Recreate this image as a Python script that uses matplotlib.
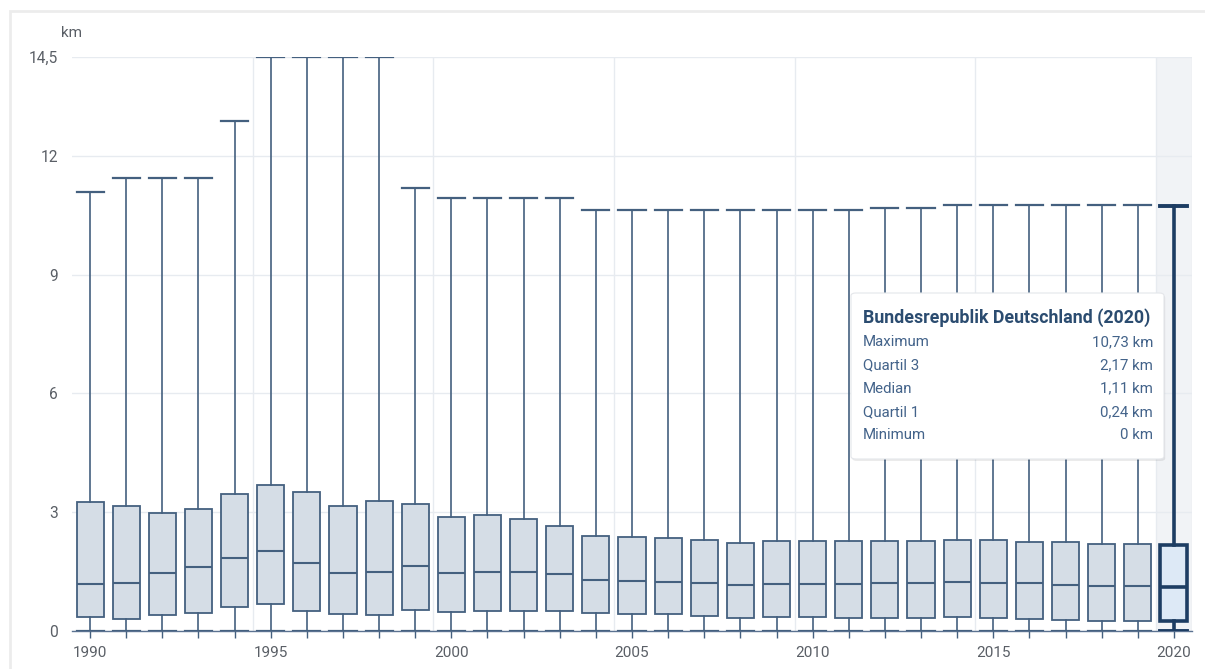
import numpy as np
import matplotlib as mpl
import matplotlib.pyplot as plt
from matplotlib.patches import FancyBboxPatch, Rectangle

mpl.rcParams.update({
    "font.family": ["Roboto", "DejaVu Sans"],
    "font.size": 10,
})

# distance in km per year: whisker ends and quartiles
years = list(range(1990, 2021))
maximum = [11.09, 11.44, 11.44, 11.44, 12.88, 14.5, 14.5, 14.5, 14.5, 11.19,
           10.94, 10.94, 10.94, 10.94, 10.63, 10.63, 10.63, 10.63, 10.63, 10.63,
           10.63, 10.63, 10.68, 10.68, 10.76, 10.76, 10.76, 10.76, 10.76, 10.76,
           10.73]
q3 = [3.25, 3.15, 2.99, 3.09, 3.47, 3.70, 3.51, 3.15, 3.29, 3.22,
      2.88, 2.92, 2.82, 2.66, 2.39, 2.37, 2.36, 2.29, 2.23, 2.27,
      2.27, 2.27, 2.27, 2.27, 2.31, 2.29, 2.26, 2.25, 2.20, 2.19,
      2.17]
median = [1.18, 1.20, 1.46, 1.62, 1.84, 2.02, 1.73, 1.47, 1.48, 1.63,
          1.46, 1.49, 1.49, 1.43, 1.29, 1.27, 1.25, 1.20, 1.17, 1.18,
          1.18, 1.18, 1.20, 1.20, 1.23, 1.22, 1.20, 1.17, 1.14, 1.13,
          1.11]
q1 = [0.35, 0.30, 0.41, 0.46, 0.61, 0.69, 0.51, 0.42, 0.40, 0.52,
      0.49, 0.50, 0.50, 0.50, 0.45, 0.43, 0.42, 0.38, 0.33, 0.35,
      0.35, 0.34, 0.34, 0.34, 0.35, 0.32, 0.30, 0.27, 0.24, 0.24,
      0.24]
minimum = [0.0] * len(years)

y_ticks = [0, 3, 6, 9, 12, 14.5]
x_labels = [1990, 1995, 2000, 2005, 2010, 2015, 2020]
region = "Bundesrepublik Deutschland"

EDGE = "#44607f"
FILL = "#d5dde6"
HL_EDGE = "#1d3d63"
HL_FILL = "#dde9f6"
GRID = "#e7ebf0"
LABEL = "#5a5f66"


def de(v):
    s = f"{v:.2f}".rstrip("0").rstrip(".")
    return s.replace(".", ",")


fig = plt.figure(figsize=(12.05, 6.69), dpi=100)
fig.patch.set_facecolor("white")
# outer card border
fig.add_artist(Rectangle((10 / 1205, -0.05), 1.2, 1 - 11 / 669 + 0.05,
                         transform=fig.transFigure, facecolor="none",
                         edgecolor="#ececec", lw=2))

ax = fig.add_axes([72 / 1205, 1 - 631 / 669, 1120 / 1205, 574 / 669])
ax.set_facecolor("none")
n = len(years)
pos = np.arange(n)

# highlighted category band
ax.axvspan(n - 1.5, n - 0.5, color="#f1f3f6", zorder=0, lw=0)
ax.axvline(n - 0.5, color=GRID, lw=1, zorder=0.5)

for y in y_ticks:
    ax.axhline(y, color=GRID, lw=1, zorder=0.5)
for i, yr in enumerate(years):
    if yr in x_labels and i > 0:
        ax.axvline(i - 0.5, color=GRID, lw=1, zorder=0.5)

stats = []
for i in range(n):
    stats.append(dict(whislo=minimum[i], q1=q1[i], med=median[i],
                      q3=q3[i], whishi=maximum[i], fliers=[]))

ax.bxp(stats[:-1], positions=pos[:-1], widths=0.75, capwidths=0.75,
       patch_artist=True, showfliers=False,
       boxprops=dict(facecolor=FILL, edgecolor=EDGE, lw=1.3),
       medianprops=dict(color=EDGE, lw=1.5),
       whiskerprops=dict(color=EDGE, lw=1.2),
       capprops=dict(color=EDGE, lw=1.6),
       manage_ticks=False)
ax.bxp(stats[-1:], positions=pos[-1:], widths=0.75, capwidths=0.75,
       patch_artist=True, showfliers=False,
       boxprops=dict(facecolor=HL_FILL, edgecolor=HL_EDGE, lw=2.6),
       medianprops=dict(color=HL_EDGE, lw=2.6),
       whiskerprops=dict(color=HL_EDGE, lw=2.6),
       capprops=dict(color=HL_EDGE, lw=2.8),
       manage_ticks=False)

ax.set_xlim(-0.5, n - 0.5)
ax.set_ylim(0, 14.5)
for s in ["left", "right", "top"]:
    ax.spines[s].set_visible(False)
ax.spines["bottom"].set_color("#5b7291")
ax.spines["bottom"].set_linewidth(1.0)
ax.spines["bottom"].set_zorder(1)

ax.set_xticks(pos)
ax.set_xticklabels([str(y) if y in x_labels else "" for y in years])
ax.tick_params(axis="x", length=5, width=1, color=EDGE,
               labelcolor=LABEL, labelsize=11, pad=6)
ax.set_yticks(y_ticks)
ax.set_yticklabels([de(v) for v in y_ticks])
ax.tick_params(axis="y", length=0, labelcolor=LABEL, labelsize=11.2, pad=10)

fig.text(61 / 1205, 1 - 33 / 669, "km", ha="left", va="center",
         color=LABEL, fontsize=11)

# tooltip for the latest year
tx0, ty0, tw, th = 851 / 1205, 1 - 459 / 669, 313 / 1205, 166 / 669
shadow = FancyBboxPatch((tx0 + 0.001, ty0 - 0.003), tw, th,
                        boxstyle="round,pad=0,rounding_size=0.004",
                        transform=fig.transFigure, facecolor="#000000",
                        alpha=0.08, edgecolor="none", zorder=9)
box = FancyBboxPatch((tx0, ty0), tw, th,
                     boxstyle="round,pad=0,rounding_size=0.004",
                     transform=fig.transFigure, facecolor="white",
                     edgecolor="#e4e6ea", lw=0.8, zorder=10)
fig.add_artist(shadow)
fig.add_artist(box)

lx = 863 / 1205
rx = 1153 / 1205
fig.text(lx, 1 - 318 / 669, f"{region} ({years[-1]})", ha="left",
         va="center", color="#2b4c70", fontsize=12.8, fontweight="bold",
         zorder=11)
rows = [("Maximum", maximum[-1]), ("Quartil 3", q3[-1]),
        ("Median", median[-1]), ("Quartil 1", q1[-1]),
        ("Minimum", minimum[-1])]
for k, (name, val) in enumerate(rows):
    yy = 1 - (342 + k * 23.3) / 669
    fig.text(lx, yy, name, ha="left", va="center", color="#43638a",
             fontsize=10.8, zorder=11)
    fig.text(rx, yy, f"{de(val)} km", ha="right", va="center",
             color="#43638a", fontsize=10.8, zorder=11)

fig.savefig("out.png", dpi=100)
